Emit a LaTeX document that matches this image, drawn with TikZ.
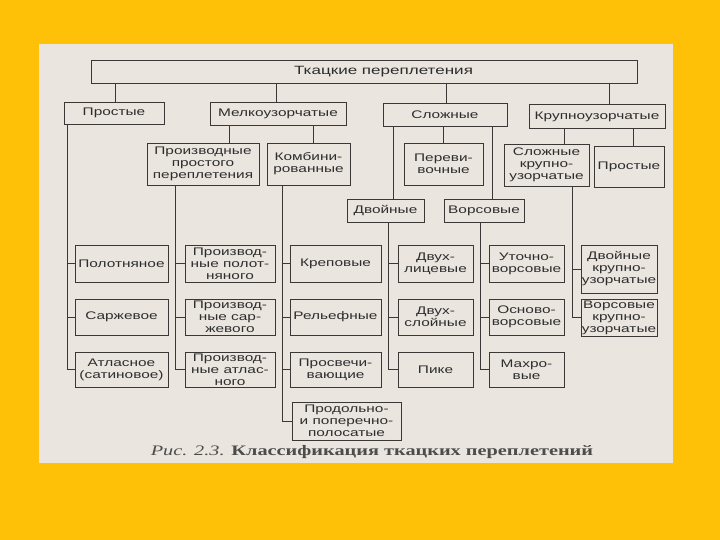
\documentclass[tikz,border=0pt]{standalone}
\usepackage{fontspec}
\newfontfamily\lab[FakeStretch=1.4]{Liberation Sans}
\newfontfamily\toplab[FakeStretch=1.42]{Liberation Sans}
\newfontfamily\capfont[FakeStretch=1.4]{Liberation Serif}
\definecolor{bgorange}{RGB}{255,193,7}
\definecolor{paper}{RGB}{234,229,223}
\definecolor{linec}{RGB}{60,55,55}
\definecolor{textc}{RGB}{45,45,45}
\tikzset{
  box/.style={draw=linec, line width=0.8pt, inner sep=0pt, align=center,
    font=\lab\fontsize{11}{12}\selectfont, text=textc},
  conn/.style={draw=linec, line width=0.7pt}
}
\begin{document}
\begin{tikzpicture}[x=1pt,y=-1pt]
\fill[bgorange] (0,0) rectangle (720,540);
\useasboundingbox (0,0) rectangle (720,540);
\fill[paper] (39,44) rectangle (673,463);
% top
\node[box, minimum width=546, minimum height=23] (top) at (364,71.5) {};
\node[font=\toplab\fontsize{12}{13}\selectfont, text=textc, inner sep=0pt] (toplabel) at (383.5,72) {Ткацкие переплетения};
% level 1
\node[box, minimum width=100, minimum height=22] (prostye) at (114,113) {Простые};
\node[box, minimum width=136, minimum height=23] (melko) at (278,113.5) {Мелкоузорчатые};
\node[box, minimum width=124, minimum height=23] (slozh) at (445,114.5) {Сложные};
\node[box, minimum width=136, minimum height=24] (krupno) at (597,116.5) {Крупноузорчатые};
% level 2
\node[box, minimum width=112, minimum height=42] (proizv) at (203,164) {Производные\\простого\\переплетения};
\node[box, minimum width=83, minimum height=42] (kombi) at (308.5,164) {Комбини-\\рованные};
\node[box, minimum width=79, minimum height=42] (perevi) at (443.5,164) {Переви-\\вочные};
\node[box, minimum width=85, minimum height=42] (slkrup) at (546.5,165) {Сложные\\крупно-\\узорчатые};
\node[box, minimum width=70, minimum height=41] (prost2) at (629,166.5) {Простые};
\node[box, minimum width=77, minimum height=23] (dvoin) at (385.5,210.5) {Двойные};
\node[box, minimum width=80, minimum height=23] (vors) at (484,210.5) {Ворсовые};
% column A
\node[box, minimum width=93, minimum height=37] (polotn) at (121.5,263.5) {Полотняное};
\node[box, minimum width=93, minimum height=36] (sarzh) at (121.5,317) {Саржевое};
\node[box, minimum width=93, minimum height=35] (atlas) at (121.5,369.5) {Атласное\\(сатиновое)};
% column B
\node[box, minimum width=90, minimum height=37] (pr1) at (230,263.5) {Производ-\\ные полот-\\няного};
\node[box, minimum width=90, minimum height=36] (pr2) at (230,317) {Производ-\\ные сар-\\жевого};
\node[box, minimum width=90, minimum height=35] (pr3) at (230,369.5) {Производ-\\ные атлас-\\ного};
% column C
\node[box, minimum width=91, minimum height=37] (krep) at (335.5,263.5) {Креповые};
\node[box, minimum width=91, minimum height=36] (relef) at (335.5,317) {Рельефные};
\node[box, minimum width=91, minimum height=35] (prosv) at (335.5,369.5) {Просвечи-\\вающие};
\node[box, minimum width=109, minimum height=38] (prodol) at (346.5,421) {Продольно-\\и поперечно-\\полосатые};
% column D
\node[box, minimum width=75, minimum height=37] (dvlic) at (435.5,263.5) {Двух-\\лицевые};
\node[box, minimum width=75, minimum height=36] (dvsl) at (435.5,317) {Двух-\\слойные};
\node[box, minimum width=75, minimum height=35] (pike) at (435.5,369.5) {Пике};
% column E
\node[box, minimum width=75, minimum height=37] (utoch) at (526.5,263.5) {Уточно-\\ворсовые};
\node[box, minimum width=75, minimum height=36] (osnov) at (526.5,317) {Осново-\\ворсовые};
\node[box, minimum width=75, minimum height=35] (mahr) at (526.5,369.5) {Махро-\\вые};
% column F
\node[box, minimum width=76, minimum height=48] (dvkrup) at (619,269) {Двойные\\крупно-\\узорчатые};
\node[box, minimum width=76, minimum height=37] (vkrup) at (619,317.5) {Ворсовые\\крупно-\\узорчатые};
% caption
\node[font=\capfont\fontsize{14.5}{16}\selectfont, text=textc!85, inner sep=0pt] (caption) at (372,452) {\textit{Рис. 2.3.} \textbf{Классификация ткацких переплетений}};
% connectors top -> level 1
\draw[conn] (top.south -| 115,0) -- (prostye.north -| 115,0);
\draw[conn] (top.south -| 276,0) -- (melko.north -| 276,0);
\draw[conn] (top.south -| 446,0) -- (slozh.north -| 446,0);
\draw[conn] (top.south -| 609,0) -- (krupno.north -| 609,0);
% level 1 -> level 2
\draw[conn] (melko.south -| 229,0) -- (proizv.north -| 229,0);
\draw[conn] (melko.south -| 313,0) -- (kombi.north -| 313,0);
\draw[conn] (slozh.south -| 443,0) -- (perevi.north -| 443,0);
\draw[conn] (slozh.south -| 393,0) -- (dvoin.north -| 393,0);
\draw[conn] (slozh.south -| 492,0) -- (vors.north -| 492,0);
\draw[conn] (krupno.south -| 564,0) -- (slkrup.north -| 564,0);
\draw[conn] (krupno.south -| 633,0) -- (prost2.north -| 633,0);
% column spines
\foreach \c in {polotn,sarzh,atlas} \draw[conn] (prostye.south -| 67,0) |- (\c.west);
\foreach \c in {pr1,pr2,pr3} \draw[conn] (proizv.south -| 175,0) |- (\c.west);
\foreach \c in {krep,relef,prosv,prodol} \draw[conn] (kombi.south -| 282,0) |- (\c.west);
\foreach \c in {dvlic,dvsl,pike} \draw[conn] (dvoin.south -| 388,0) |- (\c.west);
\foreach \c in {utoch,osnov,mahr} \draw[conn] (vors.south -| 480,0) |- (\c.west);
\foreach \c in {dvkrup,vkrup} \draw[conn] (slkrup.south -| 572,0) |- (\c.west);
\end{tikzpicture}
\end{document}
